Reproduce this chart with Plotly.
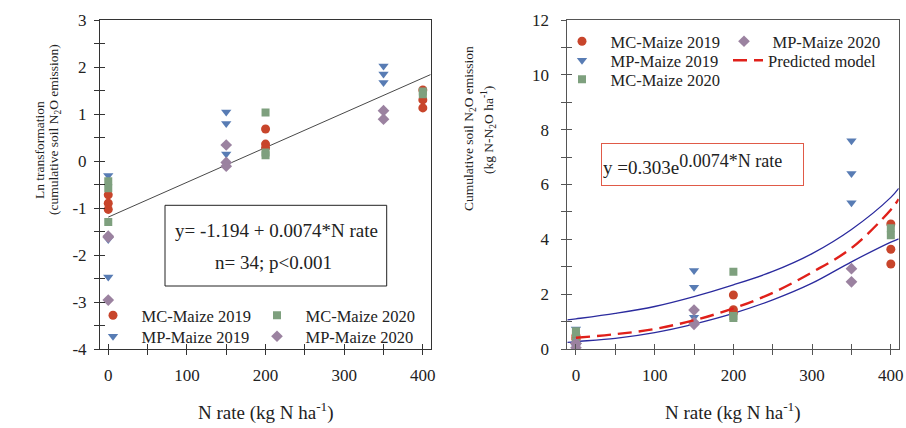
import plotly.graph_objects as go

W, H = 906, 428

# ---------------- data ----------------
# Left panel: Ln-transformed cumulative soil N2O emission
mc19_n = [0, 0, 0, 200, 200, 200, 400, 400, 400]
mc19_ln = [-0.72, -0.90, -1.03, 0.68, 0.36, 0.28, 1.51, 1.30, 1.13]
mp19_n = [0, 0, 0, 150, 150, 150, 350, 350, 350]
mp19_ln = [-0.31, -1.67, -2.47, 1.04, 0.80, 0.15, 2.02, 1.85, 1.67]
mc20_n = [0, 0, 0, 200, 200, 200, 400, 400]
mc20_ln = [-0.43, -0.58, -1.30, 1.03, 0.18, 0.12, 1.48, 1.42]
mp20_n = [0, 0, 0, 150, 150, 150, 350, 350]
mp20_ln = [-1.60, -1.62, -2.96, 0.34, -0.03, -0.11, 1.07, 0.89]

# Right panel: cumulative soil N2O emission (kg N-N2O/ha)
mc19_e = [0.49, 0.41, 0.36, 1.97, 1.43, 1.32, 4.56, 3.64, 3.10]
mp19_e = [0.73, 0.19, 0.085, 2.86, 2.25, 1.16, 7.60, 6.40, 5.33]
mc20_e = [0.65, 0.56, 0.27, 2.82, 1.20, 1.13, 4.40, 4.15]
mp20_e = [0.20, 0.20, 0.05, 1.42, 0.97, 0.90, 2.93, 2.45]

# Linear fit (left)
fit_intercept = -1.194
fit_slope = 0.0074
fit_n = [0, 410]

# Predicted model and its bands (right)
band_n = [-11, 0, 50, 100, 150, 200, 250, 300, 350, 400, 410]
band_upper = [1.06, 1.10, 1.30, 1.55, 1.91, 2.34, 2.83, 3.48, 4.36, 5.53, 5.86]
band_lower = [0.24, 0.27, 0.39, 0.60, 0.91, 1.30, 1.79, 2.40, 3.18, 3.90, 4.02]
pred_n = [0, 50, 100, 150, 200, 250, 300, 350, 400, 410]
pred_e = [0.41, 0.54, 0.73, 1.05, 1.48, 2.05, 2.80, 3.68, 5.08, 5.47]

# tick labels
left_y_ticks = [-4, -3, -2, -1, 0, 1, 2, 3]
left_y_labels = ["-4", "-3", "-2", "-1", "0", "1", "2", "3"]
right_y_ticks = [0, 2, 4, 6, 8, 10, 12]
right_y_labels = ["0", "2", "4", "6", "8", "10", "12"]
x_ticks = [0, 100, 200, 300, 400]
x_labels = ["0", "100", "200", "300", "400"]

# ---------------- styles ----------------
FONT = "Liberation Serif, Times New Roman, serif"
TXT = "#222222"
AXL = "#333333"
AXR = "#555555"
RED = "#c8452b"
BLUE = "#587cb4"
GREEN = "#7ea07e"
PURPLE = "#9b82a0"
LEGFONT = 16.5
ITEMW = 47


def mk(symbol, color, size):
    return dict(symbol=symbol, color=color, size=size, line=dict(width=0))


fig = go.Figure()

# ---- left panel ----
fit_y = [fit_intercept + fit_slope * n for n in fit_n]
fig.add_trace(go.Scatter(x=fit_n, y=fit_y, mode="lines", line=dict(color="#333333", width=0.9),
                         showlegend=False, hoverinfo="skip", xaxis="x", yaxis="y"))
fig.add_trace(go.Scatter(x=mc19_n, y=mc19_ln, mode="markers", name="MC-Maize 2019",
                         marker=mk("circle", RED, 9), xaxis="x", yaxis="y", legend="legend"))
fig.add_trace(go.Scatter(x=mp19_n, y=mp19_ln, mode="markers", name="MP-Maize 2019",
                         marker=mk("triangle-down", BLUE, 9), xaxis="x", yaxis="y", legend="legend2"))
fig.add_trace(go.Scatter(x=mc20_n, y=mc20_ln, mode="markers", name="MC-Maize 2020",
                         marker=mk("square", GREEN, 8), xaxis="x", yaxis="y", legend="legend3"))
fig.add_trace(go.Scatter(x=mp20_n, y=mp20_ln, mode="markers", name="MP-Maize 2020",
                         marker=mk("diamond", PURPLE, 9), xaxis="x", yaxis="y", legend="legend4"))

# ---- right panel ----
fig.add_trace(go.Scatter(x=band_n, y=band_upper, mode="lines", line=dict(color="#2b2b9e", width=1.3, shape="spline"),
                         showlegend=False, hoverinfo="skip", xaxis="x2", yaxis="y2"))
fig.add_trace(go.Scatter(x=band_n, y=band_lower, mode="lines", line=dict(color="#2b2b9e", width=1.3, shape="spline"),
                         showlegend=False, hoverinfo="skip", xaxis="x2", yaxis="y2"))
fig.add_trace(go.Scatter(x=mc19_n, y=mc19_e, mode="markers", name="MC-Maize 2019",
                         marker=mk("circle", RED, 9), xaxis="x2", yaxis="y2", legend="legend5"))
fig.add_trace(go.Scatter(x=mp19_n, y=mp19_e, mode="markers", name="MP-Maize 2019",
                         marker=mk("triangle-down", BLUE, 9), xaxis="x2", yaxis="y2", legend="legend6"))
fig.add_trace(go.Scatter(x=mc20_n, y=mc20_e, mode="markers", name="MC-Maize 2020",
                         marker=mk("square", GREEN, 8), xaxis="x2", yaxis="y2", legend="legend7"))
fig.add_trace(go.Scatter(x=mp20_n, y=mp20_e, mode="markers", name="MP-Maize 2020",
                         marker=mk("diamond", PURPLE, 9), xaxis="x2", yaxis="y2", legend="legend8"))
fig.add_trace(go.Scatter(x=pred_n, y=pred_e, mode="lines", name="Predicted model",
                         line=dict(color="#e0201a", width=2.4, dash="14px,7px", shape="spline"),
                         xaxis="x2", yaxis="y2", legend="legend9"))

# dummy traces so the "inside tick" overlay axes get drawn
fig.add_trace(go.Scatter(x=[None], y=[None], xaxis="x3", yaxis="y3", showlegend=False, hoverinfo="skip"))
fig.add_trace(go.Scatter(x=[None], y=[None], xaxis="x4", yaxis="y4", showlegend=False, hoverinfo="skip"))

tickfont = dict(family=FONT, size=17, color=TXT)


def base_axis(color, rng, tickvals, ticktext, minor_dtick, side_ticks, labels, standoff, **kw):
    d = dict(range=rng, tickmode="array", tickvals=tickvals, ticktext=ticktext,
             ticks=side_ticks, ticklen=5, tickwidth=1, tickcolor=color,
             minor=dict(tick0=0, dtick=minor_dtick, ticks=side_ticks, ticklen=5,
                        tickwidth=1, tickcolor=color),
             showgrid=False, zeroline=False, showticklabels=labels, tickfont=tickfont,
             fixedrange=True, automargin=False)
    if labels:
        d["ticklabelstandoff"] = standoff
    d.update(kw)
    return d


LX = [100 / W, 430.7 / W]
RX = [567.3 / W, 898.7 / W]
YD = [79 / H, 408 / H]
LXR = [-10.5, 410]
RXR = [-11, 410]


def leg(marker_x, marker_y, itemw=ITEMW):
    return dict(x=(marker_x - (itemw / 2 + 5)) / W, y=(H - (marker_y - 17)) / H,
                xanchor="left", yanchor="top",
                bgcolor="rgba(0,0,0,0)", borderwidth=0, itemwidth=itemw,
                font=dict(family=FONT, size=LEGFONT, color=TXT))


fig.update_layout(
    width=W, height=H, margin=dict(l=0, r=0, t=0, b=0),
    paper_bgcolor="white", plot_bgcolor="rgba(0,0,0,0)",
    font=dict(family=FONT, color=TXT),
    xaxis=base_axis(AXL, LXR, x_ticks, x_labels, 50, "outside", True, 6, domain=LX, anchor="y",
                    showline=True, linecolor=AXL, linewidth=1, mirror=True),
    yaxis=base_axis(AXL, [-4, 3], left_y_ticks, left_y_labels, 0.5, "outside", True, 4, domain=YD, anchor="x",
                    showline=True, linecolor=AXL, linewidth=1, mirror=True),
    xaxis3=base_axis(AXL, LXR, x_ticks, x_labels, 50, "inside", False, 0, overlaying="x", anchor="y3",
                     showline=False),
    yaxis3=base_axis(AXL, [-4, 3], left_y_ticks, left_y_labels, 0.5, "inside", False, 0, overlaying="y",
                     anchor="x3", showline=False),
    xaxis2=base_axis(AXR, RXR, x_ticks, x_labels, 50, "outside", True, 6, domain=RX, anchor="y2",
                     showline=True, linecolor=AXR, linewidth=1, mirror=True),
    yaxis2=base_axis(AXR, [0, 12], right_y_ticks, right_y_labels, 1, "outside", True, 9, domain=YD, anchor="x2",
                     showline=True, linecolor=AXR, linewidth=1, mirror=True),
    xaxis4=base_axis(AXR, RXR, x_ticks, x_labels, 50, "inside", False, 0, overlaying="x2", anchor="y4",
                     showline=False),
    yaxis4=base_axis(AXR, [0, 12], right_y_ticks, right_y_labels, 1, "inside", False, 0, overlaying="y2",
                     anchor="x4", showline=False),
    legend=leg(113, 315),
    legend2=leg(113, 336),
    legend3=leg(277, 315),
    legend4=leg(277, 336),
    legend5=leg(582, 41),
    legend6=leg(582, 60),
    legend7=leg(582, 79),
    legend8=leg(744, 41),
    legend9=leg(748, 60, itemw=30),
    showlegend=True,
)


def px(x):
    return x / W


def py(y):
    return (H - y) / H


annots = []
# left equation box lines
annots.append(dict(x=px(276), y=py(231), text="y= -1.194 + 0.0074*N rate", font=dict(size=19)))
annots.append(dict(x=px(273), y=py(263), text="n= 34; p&lt;0.001", font=dict(size=19)))
# right equation
annots.append(dict(x=px(702), y=py(164),
                   text='y =0.303e<sup><span style="font-size:18px">0.0074*N rate</span></sup>',
                   font=dict(size=19), bordercolor="#e05a48", borderwidth=1, width=199, height=39,
                   borderpad=1, align="left"))
# axis titles
annots.append(dict(x=px(266), y=py(411), text="N rate (kg N ha<sup>-1</sup>)", font=dict(size=19)))
annots.append(dict(x=px(733), y=py(411), text="N rate (kg N ha<sup>-1</sup>)", font=dict(size=19)))
annots.append(dict(x=px(39), y=py(150), text="Ln transformation", textangle=-90, font=dict(size=13.5)))
annots.append(dict(x=px(54), y=py(130), text="(cumulative soil N<sub>2</sub>O emission)", textangle=-90,
                   font=dict(size=13.5)))
annots.append(dict(x=px(470), y=py(129), text="Cumulative soil N<sub>2</sub>O emission", textangle=-90,
                   font=dict(size=13.5)))
annots.append(dict(x=px(488), y=py(130), text="(kg N-N<sub>2</sub>O ha<sup>-1</sup>)", textangle=-90,
                   font=dict(size=13.5)))
for a in annots:
    a.setdefault("xref", "paper")
    a.setdefault("yref", "paper")
    a.setdefault("showarrow", False)
    a.setdefault("xanchor", "center")
    a.setdefault("yanchor", "middle")
    a["font"] = dict(family=FONT, color=TXT, **a["font"])
fig.update_layout(annotations=annots)

fig.add_shape(type="rect", xref="paper", yref="paper", x0=px(165), x1=px(386.7), y0=py(286), y1=py(205.3),
              line=dict(color="#222222", width=1), fillcolor="rgba(0,0,0,0)")

fig.write_html("out.html")
